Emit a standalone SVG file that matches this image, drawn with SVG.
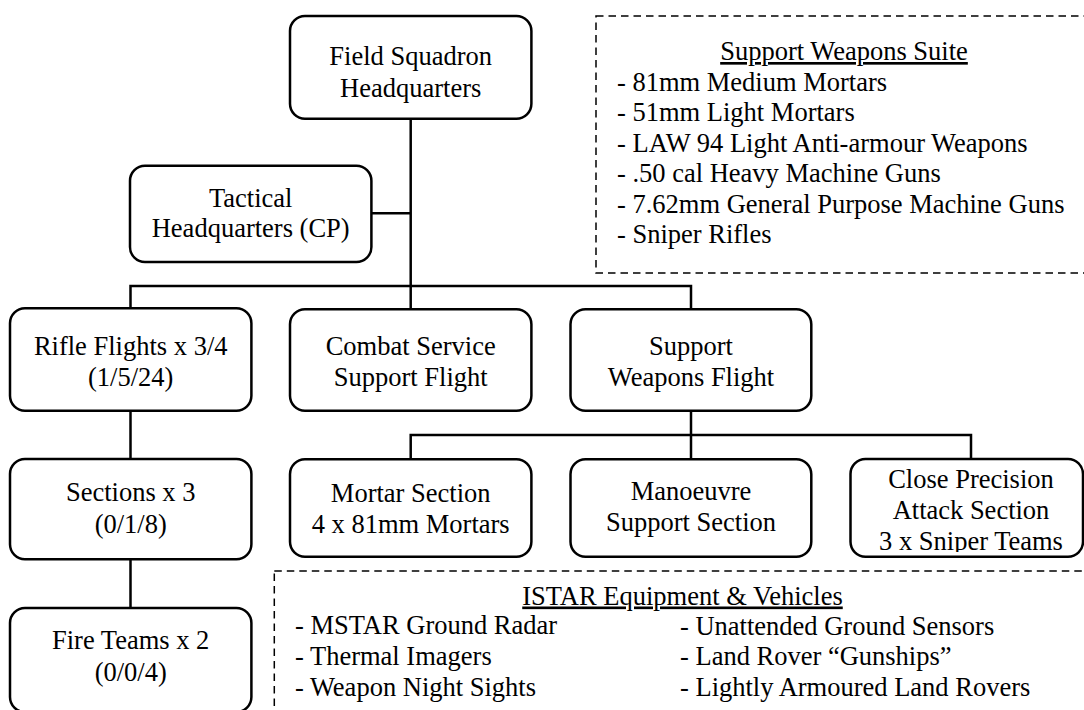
<svg xmlns="http://www.w3.org/2000/svg" width="1084" height="710" viewBox="0 0 1084 710">
<style>
.box{fill:#fff;stroke:#000;stroke-width:2.5}
.t{font-family:"Liberation Serif","Times New Roman",serif;font-size:26.5px;fill:#000}
.c{text-anchor:middle}
.u{text-decoration:underline}
.conn{fill:none;stroke:#000;stroke-width:2.5}
.dash{fill:none;stroke:#000;stroke-width:1.5;stroke-dasharray:7.5 5}
</style>
<defs>
<clipPath id="cpClip"><rect x="851" y="460" width="231" height="92"/></clipPath>
</defs>
<rect width="1084" height="710" fill="#fff"/>
<g id="connectors">
<path class="conn" d="M410.7,119 V286"/>
<path class="conn" d="M371.4,213.3 H410.7"/>
<path class="conn" d="M130.5,308.5 V286 H691 V309.5"/>
<path class="conn" d="M410.7,286 V309.5"/>
<path class="conn" d="M130.5,410.7 V459"/>
<path class="conn" d="M130.5,559.3 V608"/>
<path class="conn" d="M691,410.7 V459.3"/>
<path class="conn" d="M410.7,459.3 V435 H971 V459"/>
</g>
<g id="hq">
<rect class="box" x="290" y="16" width="241.4" height="102.7" rx="15"/>
<text class="t c" x="410.7" y="65">Field Squadron</text>
<text class="t c" x="410.7" y="96.7">Headquarters</text>
</g>
<g id="tac-hq">
<rect class="box" x="130" y="165.7" width="241.4" height="96.3" rx="15"/>
<text class="t c" x="250.7" y="206.7">Tactical</text>
<text class="t c" x="250.7" y="237.3">Headquarters (CP)</text>
</g>
<g id="rifle">
<rect class="box" x="10" y="308.3" width="241.4" height="102.4" rx="15"/>
<text class="t c" x="130.7" y="355">Rifle Flights x 3/4</text>
<text class="t c" x="130.7" y="386">(1/5/24)</text>
</g>
<g id="css">
<rect class="box" x="290" y="309.3" width="241.4" height="101.4" rx="15"/>
<text class="t c" x="410.7" y="355">Combat Service</text>
<text class="t c" x="410.7" y="386">Support Flight</text>
</g>
<g id="swf">
<rect class="box" x="570.5" y="309.3" width="240.8" height="101.4" rx="15"/>
<text class="t c" x="691" y="355">Support</text>
<text class="t c" x="691" y="386">Weapons Flight</text>
</g>
<g id="sections">
<rect class="box" x="10" y="459" width="241.4" height="100.3" rx="15"/>
<text class="t c" x="130.7" y="501">Sections x 3</text>
<text class="t c" x="130.7" y="533.3">(0/1/8)</text>
</g>
<g id="fireteams">
<rect class="box" x="10" y="608" width="241.4" height="104" rx="15"/>
<text class="t c" x="130.7" y="649">Fire Teams x 2</text>
<text class="t c" x="130.7" y="681">(0/0/4)</text>
</g>
<g id="mortar">
<rect class="box" x="290" y="459.3" width="241.4" height="97.4" rx="15"/>
<text class="t c" x="410.7" y="501.5">Mortar Section</text>
<text class="t c" x="410.7" y="533">4 x 81mm Mortars</text>
</g>
<g id="manoeuvre">
<rect class="box" x="570.5" y="459.3" width="240.8" height="97.4" rx="15"/>
<text class="t c" x="691" y="499.5">Manoeuvre</text>
<text class="t c" x="691" y="530.5">Support Section</text>
</g>
<g id="cpa">
<rect class="box" x="850.5" y="459" width="232.5" height="97.7" rx="15"/>
<g clip-path="url(#cpClip)">
<text class="t c" x="971" y="488">Close Precision</text>
<text class="t c" x="971" y="519">Attack Section</text>
<text class="t c" x="971" y="549.5">3 x Sniper Teams</text>
</g>
</g>
<g id="sws-suite">
<rect class="dash" x="596" y="16" width="500" height="257"/>
<text class="t c u" x="844" y="60">Support Weapons Suite</text>
<text class="t" x="617" y="90.7">- 81mm Medium Mortars</text>
<text class="t" x="617" y="121">- 51mm Light Mortars</text>
<text class="t" x="617" y="151.5">- LAW 94 Light Anti-armour Weapons</text>
<text class="t" x="617" y="182">- .50 cal Heavy Machine Guns</text>
<text class="t" x="617" y="212.5">- 7.62mm General Purpose Machine Guns</text>
<text class="t" x="617" y="243">- Sniper Rifles</text>
</g>
<g id="istar">
<rect class="dash" x="274.3" y="571" width="820" height="160"/>
<text class="t c u" x="682.5" y="604.5">ISTAR Equipment &amp; Vehicles</text>
<text class="t" x="295" y="634">- MSTAR Ground Radar</text>
<text class="t" x="295" y="665">- Thermal Imagers</text>
<text class="t" x="295" y="696">- Weapon Night Sights</text>
<text class="t" x="680" y="634.5">- Unattended Ground Sensors</text>
<text class="t" x="680" y="665">- Land Rover “Gunships”</text>
<text class="t" x="680" y="696">- Lightly Armoured Land Rovers</text>
</g>
</svg>
